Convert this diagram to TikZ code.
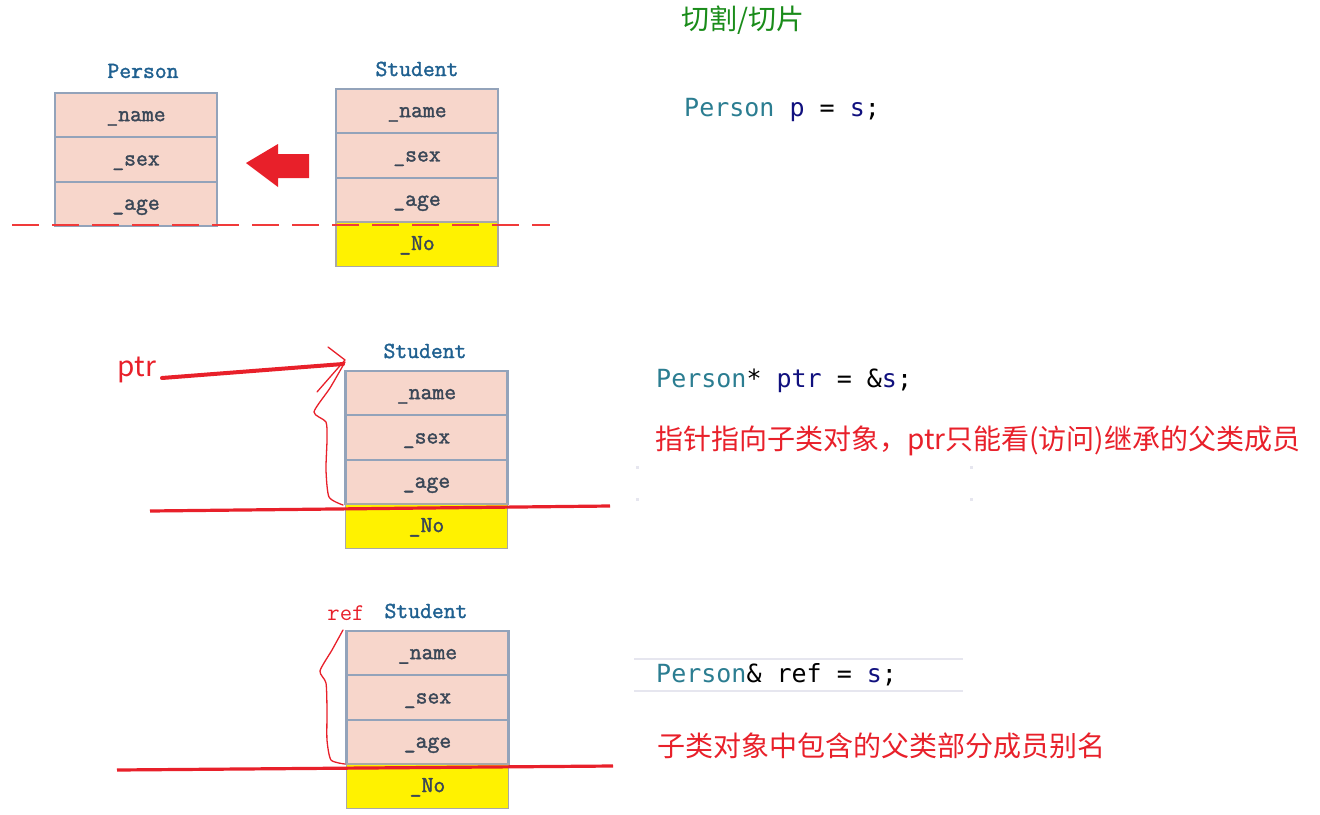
\documentclass[tikz,border=0pt]{standalone}
\usepackage{fontspec}
\setmainfont{Liberation Serif}
\newfontfamily\memfont{Latin Modern Mono}[FakeBold=1.6]
\newfontfamily\reffont{Latin Modern Mono}
\newfontfamily\codefont{DejaVu Sans Mono}
\newfontfamily\cjk{Noto Sans CJK SC}
\definecolor{cellfill}{HTML}{F7D6CB}
\definecolor{cellborder}{HTML}{93A3BA}
\definecolor{nogray}{HTML}{A8A8A8}
\definecolor{memtext}{HTML}{3A4757}
\definecolor{stublue}{HTML}{1F6090}
\definecolor{hred}{HTML}{E8202A}
\definecolor{dashred}{HTML}{F03A3A}
\definecolor{tgreen}{HTML}{1A8C1A}
\definecolor{codeteal}{HTML}{2B7D91}
\definecolor{codenavy}{HTML}{10107E}
\definecolor{lightline}{HTML}{E6E6EF}
\begin{document}
\begin{tikzpicture}[x=1pt,y=-1pt,
  cell/.style={draw=cellborder, line width=2.2pt, fill=cellfill, minimum width=162pt,
    minimum height=44.3pt, inner sep=0pt, text height=12pt, text depth=0pt,
    font=\memfont\fontsize{23}{23}\selectfont, text=memtext},
  nocell/.style={cell, fill=yellow, draw=nogray, line width=1.2pt},
  title/.style={inner sep=0pt, font=\memfont\fontsize{23}{23}\selectfont, text=stublue},
  code/.style={inner sep=0pt, anchor=west, font=\codefont\fontsize{25}{25}\selectfont},
  note/.style={inner sep=0pt, anchor=west, font=\cjk\fontsize{28}{28}\selectfont, text=hred},
  redline/.style={draw=hred, line width=3.2pt},
  brace/.style={draw=hred, line width=1.3pt, line join=round, line cap=round},
  dashline/.style={draw=dashred, line width=2.2pt, dash pattern=on 27pt off 13pt}
]
\useasboundingbox (0,0) rectangle (1320,814);

% ---------- top: Person / Student ----------
\node[title] (tP) at (143,71) {Person};
\node[cell] (a1) at (136,115.15) {\_name};
\node[cell] (a2) at (136,159.45) {\_sex};
\node[cell] (a3) at (136,203.75) {\_age};

\node[title] (tS1) at (417,69) {Student};
\node[cell] (b1) at (417,111.15) {\_name};
\node[cell] (b2) at (417,155.45) {\_sex};
\node[cell] (b3) at (417,199.75) {\_age};
\node[nocell] (b4) at (417,244.05) {\_No};

\fill[hred] (246,163) -- (278,144) -- (278,154) -- (309,154) -- (309,178)
  -- (278,178) -- (278,187) -- cycle;

\coordinate (d1) at (12,225);
\coordinate (d2) at (550,225);
\draw[dashline] (d1) -- (d2);

\node[inner sep=0pt, font=\cjk\fontsize{28}{28}\selectfont, text=tgreen, anchor=west] (cut) at (681,20) {切割/切片};
\node[code] (c1) at (684,110) {\textcolor{codeteal}{Person} \textcolor{codenavy}{p} = \textcolor{codenavy}{s};};

% ---------- middle: pointer ----------
\node[title] (tS2) at (425,351) {Student};
\node[cell] (m1) at (426.5,393.15) {\_name};
\node[cell] (m2) at (426.5,437.45) {\_sex};
\node[cell] (m3) at (426.5,481.75) {\_age};
\node[nocell] (m4) at (426.5,526.05) {\_No};

\coordinate (r1a) at (150,511);
\coordinate (r1b) at (610,506);
\draw[redline] (r1a) -- (r1b);

\node[inner sep=0pt, font=\cjk\fontsize{28}{28}\selectfont, text=hred] (ptr) at (137,370) {ptr};
\coordinate (ptrend) at (343,364);
\draw[draw=hred, line width=4pt, line cap=round] (162,378) -- (ptrend);
\draw[brace] (328,347) -- (345,360) -- (317,392);
\draw[brace] plot[smooth, tension=0.4] coordinates {(345,362) (330,388) (314,412) (326,422) (327,440) (326,470) (329,497) (343,505)};

\node[code] (c2) at (656,381) {\textcolor{codeteal}{Person}* \textcolor{codenavy}{ptr} = \&\textcolor{codenavy}{s};};
\node[note] (n1) at (655,441) {指针指向子类对象，ptr只能看(访问)继承的父类成员};

\foreach \p in {(637,467),(971,467),(637,499),(971,499)}
  \fill[lightline] \p ++(-1.5,-1.5) rectangle ++(3,3);

% ---------- bottom: reference ----------
\node[title] (tS3) at (426,611) {Student};
\node[inner sep=0pt, font=\reffont\fontsize{24}{24}\selectfont, text=hred] (ref) at (346,613) {ref};
\node[cell] (f1) at (427.5,653.15) {\_name};
\node[cell] (f2) at (427.5,697.45) {\_sex};
\node[cell] (f3) at (427.5,741.75) {\_age};
\node[nocell] (f4) at (427.5,786.05) {\_No};

\coordinate (r2a) at (117,770);
\coordinate (r2b) at (613,766);
\draw[redline] (r2a) -- (r2b);

\draw[brace] plot[smooth, tension=0.4] coordinates {(343,630) (332,650) (320,671) (326,683) (327,710) (327,740) (331,760) (345,764)};

\coordinate (g1a) at (634,659);
\coordinate (g1b) at (963,659);
\coordinate (g2a) at (634,691);
\coordinate (g2b) at (963,691);
\draw[lightline, line width=2.5pt] (g1a) -- (g1b);
\draw[lightline, line width=2.5pt] (g2a) -- (g2b);
\node[code] (c3) at (656,675) {\textcolor{codeteal}{Person}\& ref = \textcolor{codenavy}{s};};
\node[note] (n2) at (657,746) {子类对象中包含的父类部分成员别名};
\end{tikzpicture}
\end{document}
